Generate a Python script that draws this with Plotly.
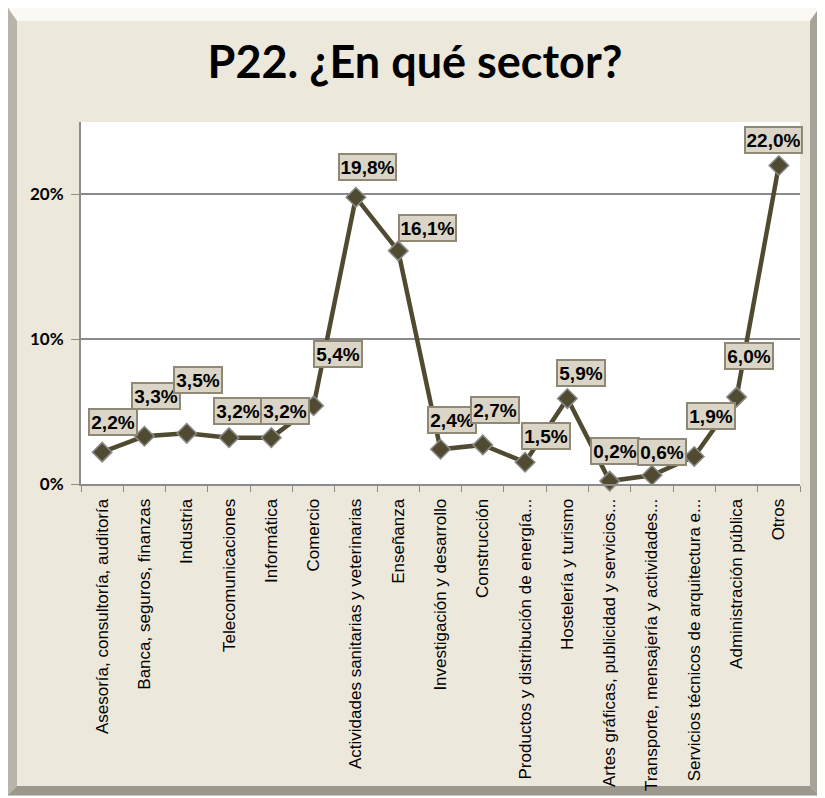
import plotly.graph_objects as go

categories = [
    "Asesoría, consultoría, auditoría",
    "Banca, seguros, finanzas",
    "Industria",
    "Telecomunicaciones",
    "Informática",
    "Comercio",
    "Actividades sanitarias y veterinarias",
    "Enseñanza",
    "Investigación y desarrollo",
    "Construcción",
    "Productos y distribución de energía...",
    "Hostelería y turismo",
    "Artes gráficas, publicidad y servicios...",
    "Transporte, mensajería y actividades...",
    "Servicios técnicos de arquitectura e...",
    "Administración pública",
    "Otros",
]
values = [0.022, 0.033, 0.035, 0.032, 0.032, 0.054, 0.198, 0.161, 0.024, 0.027,
          0.015, 0.059, 0.002, 0.006, 0.019, 0.060, 0.220]
value_labels = ["2,2%", "3,3%", "3,5%", "3,2%", "3,2%", "5,4%", "19,8%", "16,1%", "2,4%",
                "2,7%", "1,5%", "5,9%", "0,2%", "0,6%", "1,9%", "6,0%", "22,0%"]
ytick_vals = [0, 0.1, 0.2]
ytick_text = ["0%", "10%", "20%"]

# label placement (pixel offsets, style only)
label_dx = [11, 12, 11, 9, 14, 24, 12, 29, 11, 12, 21, 14, 5, 10, 17, 12, -5]
label_dy = [30, 40, 53, 27, 27, 52, 30, 23, 29, 35, 26, 26, 30, 23, 40, 41, 25]

# page body has an 8px margin: figure origin sits at (8, 8) in the window
OFF = 8
W, H = 825 - OFF, 798 - OFF
L, R, T, B = 81 - OFF, 800 - OFF, 122 - OFF, 484 - OFF


def px(x):
    return (x - L) / (R - L)


def py(y):
    return (B - y) / (B - T)


def poly(pts):
    return "M " + " L ".join(f"{px(a):.5f},{py(b):.5f}" for a, b in pts) + " Z"


fig = go.Figure()
fig.add_trace(go.Scatter(
    x=categories, y=values, mode="lines+markers",
    line=dict(color="#4F4A30", width=4.5),
    marker=dict(symbol="diamond", size=15, color="#4F4A30",
                line=dict(color="#8A8A8A", width=1.5)),
    hoverinfo="skip", showlegend=False, cliponaxis=False,
))

for c, v, t, dx, dy in zip(categories, values, value_labels, label_dx, label_dy):
    fig.add_annotation(
        x=c, y=v, text=f"<b>{t}</b>", showarrow=False,
        xshift=dx, yshift=dy, width=44 + 9 * (len(t) - 4), height=22,
        bgcolor="#DAD5C6", bordercolor="#8E8874", borderwidth=2, borderpad=1,
        font=dict(family="Liberation Sans Narrow, Arial Narrow, Liberation Sans", size=19, color="black"),
    )

x0, y0, x1, y1, bw = 0, 0, 811, 787, 9
shapes = [
    dict(type="path", xref="paper", yref="paper", layer="below",
         path=poly([(x0, y0), (x1, y0), (x1, y1), (x0, y1)]),
         fillcolor="#EDE8DC", line=dict(color="#8C8C8C", width=1)),
    dict(type="path", xref="paper", yref="paper", layer="below",
         path=poly([(x0, y0), (x1, y0), (x1 - bw, y0 + bw + 4), (x0 + bw, y0 + bw + 4)]),
         fillcolor="#FBF9F3", line=dict(width=0)),
    dict(type="path", xref="paper", yref="paper", layer="below",
         path=poly([(x0, y0), (x0 + bw, y0 + bw + 4), (x0 + bw, y1 - bw), (x0, y1)]),
         fillcolor="#B9B4A9", line=dict(width=0)),
    dict(type="path", xref="paper", yref="paper", layer="below",
         path=poly([(x1, y0), (x1, y1), (x1 - bw, y1 - bw), (x1 - bw, y0 + bw + 4)]),
         fillcolor="#A8A398", line=dict(width=0)),
    dict(type="path", xref="paper", yref="paper", layer="below",
         path=poly([(x0, y1), (x1, y1), (x1 - bw, y1 - bw), (x0 + bw, y1 - bw)]),
         fillcolor="#9D988D", line=dict(width=0)),
    dict(type="rect", xref="paper", yref="paper", layer="below",
         x0=0, x1=1, y0=0, y1=1, fillcolor="white", line=dict(width=0)),
]

fig.update_layout(
    width=W, height=H,
    margin=dict(l=L, r=W - R, t=T, b=H - B, pad=0, autoexpand=False),
    paper_bgcolor="white", plot_bgcolor="rgba(0,0,0,0)",
    shapes=shapes,
    title=dict(text="<b>P22. ¿En qué sector?</b>", x=(415 - OFF) / W, xanchor="center",
               y=1 - (62 - OFF) / H, yanchor="middle", yref="container",
               font=dict(family="Lato, Carlito, Open Sans", size=45, color="black")),
    xaxis=dict(type="category", range=[-0.5, len(categories) - 0.5], automargin=False,
               tickangle=-90, tickson="boundaries", ticks="outside",
               ticklen=6, tickcolor="#8C8C8C", showline=True, linecolor="#8C8C8C",
               linewidth=2, showgrid=False, ticklabelstandoff=6,
               tickfont=dict(family="Liberation Sans, Arial", size=17, color="black")),
    yaxis=dict(range=[0, 0.25], tickvals=ytick_vals, ticktext=[f"<b>{t}</b>" for t in ytick_text],
               ticks="outside", ticklen=8, tickcolor="#8C8C8C", showline=True, automargin=False,
               linecolor="#8C8C8C", linewidth=2, showgrid=True, gridcolor="#8A8A8A",
               gridwidth=2, zeroline=False, ticklabelstandoff=4,
               tickfont=dict(family="Lato, Carlito, Open Sans", size=17, color="black")),
)

fig.write_html("out.html")
